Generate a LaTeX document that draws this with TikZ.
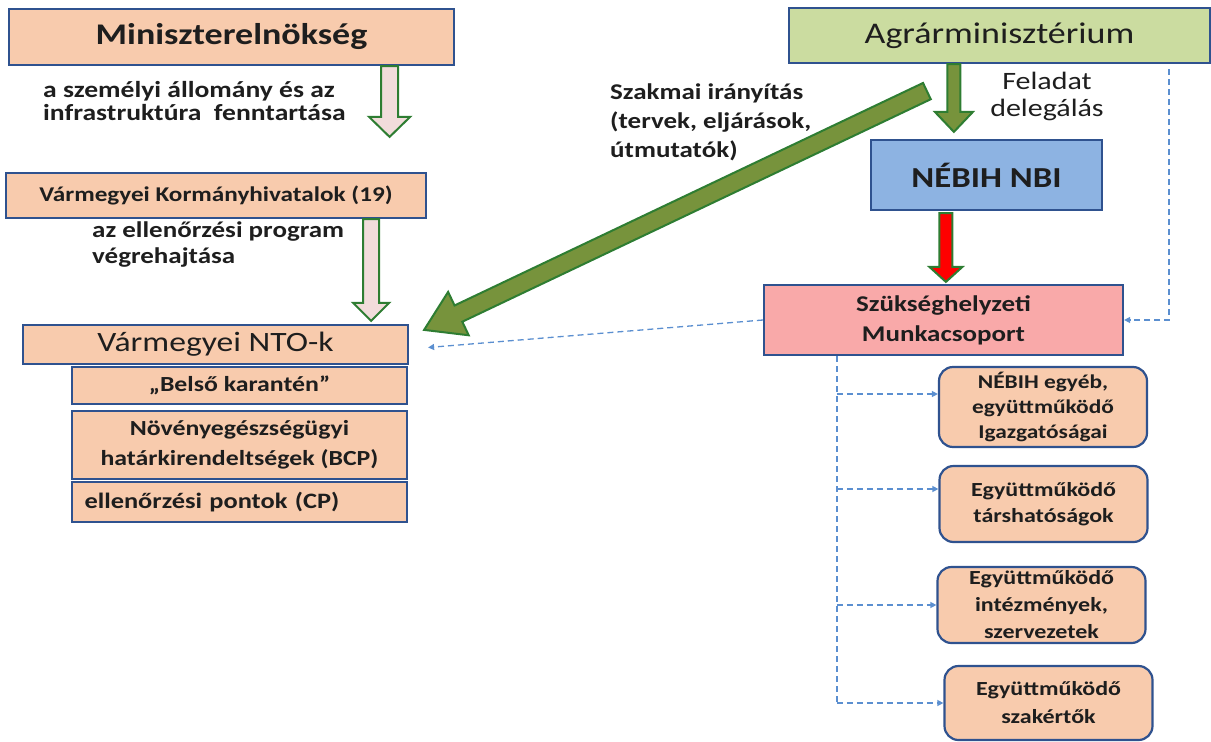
\documentclass[tikz,border=0pt]{standalone}
\usepackage{fontspec}
\setmainfont{Carlito}[FakeStretch=1.2]
\usetikzlibrary{calc,arrows.meta}

\definecolor{peach}{HTML}{F8CBAD}
\definecolor{boxline}{HTML}{2F528F}
\definecolor{agrargreen}{HTML}{CBDCA0}
\definecolor{nebihblue}{HTML}{8DB3E2}
\definecolor{alarmpink}{HTML}{F9A9A9}
\definecolor{arrowolive}{HTML}{77933C}
\definecolor{arrowline}{HTML}{2E7D32}
\definecolor{hollowfill}{HTML}{F2DCDB}
\definecolor{dashblue}{HTML}{5B8FD0}
\definecolor{textdark}{HTML}{1E1E1E}

% block arrow: style, tail, tip, shaft half width, head half width, head length
\newcommand{\fatarrow}[6]{%
  \coordinate (fahead) at ($(#3)!#6!(#2)$);
  \draw[#1] ($(#2)!#4!90:(#3)$) -- ($(fahead)!#4!-90:(#2)$) -- ($(fahead)!#5!-90:(#2)$) -- (#3)
    -- ($(fahead)!#5!90:(#2)$) -- ($(fahead)!#4!90:(#2)$) -- ($(#2)!#4!-90:(#3)$) -- cycle;}

\begin{document}
\begin{tikzpicture}[x=1pt,y=-1pt]
\tikzstyle{every node}+=[inner sep=0pt]
\tikzstyle{orgbox}=[draw=boxline, line width=2.2pt, fill=peach, text=textdark]
\tikzstyle{roundbox}=[orgbox, rounded corners=14pt, minimum width=208, align=center, font=\bfseries\fontsize{20}{26}\selectfont]
\tikzstyle{note}=[text=textdark, align=left, font=\bfseries\fontsize{23}{23}\selectfont]
\tikzstyle{hollowarrow}=[draw=arrowline, line width=2pt, fill=hollowfill]
\tikzstyle{solidarrow}=[draw=arrowline, line width=2pt, fill=arrowolive]
\tikzstyle{redarrow}=[solidarrow, fill=red]
\tikzstyle{dashline}=[draw=dashblue, line width=1.3pt, dash pattern=on 6pt off 4pt]
\tikzstyle{dashlink}=[dashline, -{Triangle[length=6pt,width=6pt]}]
\useasboundingbox (0,0) rectangle (1211,742);
% left column
\node[orgbox, minimum width=445, minimum height=56, font=\bfseries\fontsize{30}{36}\selectfont] (minisz) at (231.5,37) {Miniszterelnökség};
\node[orgbox, minimum width=420, minimum height=45, font=\bfseries\fontsize{21}{26}\selectfont] (megyekh) at (216,195.5) {Vármegyei Kormányhivatalok (19)};
\node[orgbox, minimum width=385, minimum height=39, font=\fontsize{28}{32}\selectfont] (nto) at (215.5,344.5) {Vármegyei NTO-k};
\node[orgbox, minimum width=335, minimum height=37, font=\bfseries\fontsize{21.5}{23}\selectfont] (belso) at (239.5,385.5) {„Belső karantén”};
\node[orgbox, minimum width=335, minimum height=68, align=center, font=\bfseries\fontsize{21.5}{30}\selectfont] (bcp) at (239.5,445) {Növényegészségügyi\\határkirendeltségek (BCP)};
\node[orgbox, minimum width=335, minimum height=40, text width=310, align=left, font=\bfseries\fontsize{22}{24}\selectfont] (cp) at (239.5,502) {ellenőrzési pontok (CP)};
\node[note, anchor=west] (tszemely) at (43,101) {a személyi állomány és az\\infrastruktúra\ \ fenntartása};
\node[note, anchor=west, font=\bfseries\fontsize{22.5}{26}\selectfont] (tellen) at (92,245) {az ellenőrzési program\\végrehajtása};
% right column
\node[orgbox, fill=agrargreen, minimum width=421, minimum height=55, font=\fontsize{30}{34}\selectfont] (agrar) at (999.5,35.5) {Agrárminisztérium};
\node[orgbox, fill=nebihblue, minimum width=231, minimum height=70, font=\bfseries\fontsize{29}{32}\selectfont] (nebih) at (986.5,175) {NÉBIH NBI};
\node[orgbox, fill=alarmpink, minimum width=359, minimum height=70, align=center, font=\bfseries\fontsize{22.5}{30}\selectfont] (munkacs) at (943.5,320) {Szükséghelyzeti\\Munkacsoport};
\node[roundbox, minimum height=80, font=\bfseries\fontsize{19.5}{25}\selectfont] (egyeb) at (1043,407) {NÉBIH egyéb,\\együttműködő\\Igazgatóságai};
\node[roundbox, minimum height=76] (tars) at (1043.5,504) {Együttműködő\\társhatóságok};
\node[roundbox, minimum height=76, font=\bfseries\fontsize{20}{27}\selectfont] (intez) at (1041.5,605) {Együttműködő\\intézmények,\\szervezetek};
\node[roundbox, minimum height=74, font=\bfseries\fontsize{20}{28}\selectfont] (szak) at (1048.5,703) {Együttműködő\\szakértők};
\node[note, anchor=west, font=\bfseries\fontsize{22.5}{29}\selectfont] (tszakmai) at (610,122) {Szakmai irányítás\\(tervek, eljárások,\\útmutatók)};
\node[note, align=center, font=\fontsize{25}{27}\selectfont] (tfeladat) at (1047,96) {Feladat\\delegálás};
% block arrows
\coordinate (h1a) at ($(minisz.south east)+(-65.5,0)$);
\coordinate (h1b) at ($(megyekh.north east)+(-37.5,-35)$);
\fatarrow{hollowarrow}{h1a}{h1b}{8.5pt}{20.5pt}{20pt}
\coordinate (h2a) at ($(megyekh.south east)+(-56,0)$);
\coordinate (h2b) at ($(nto.north east)+(-38,-3)$);
\fatarrow{hollowarrow}{h2a}{h2b}{8pt}{18pt}{18pt}
\coordinate (g1a) at ($(agrar.south west)+(166,0)$);
\coordinate (g1b) at ($(nebih.north west)+(84,-7)$);
\fatarrow{solidarrow}{g1a}{g1b}{6.5pt}{19pt}{20pt}
\coordinate (r1a) at ($(nebih.south west)+(76,2)$);
\coordinate (r1b) at ($(munkacs.north west)+(183,-2)$);
\fatarrow{redarrow}{r1a}{r1b}{6.5pt}{16.5pt}{15pt}
\coordinate (g2a) at ($(agrar.south west)+(139,27)$);
\coordinate (g2b) at ($(nto.north east)+(15,6)$);
\fatarrow{solidarrow}{g2a}{g2b}{9pt}{24pt}{38pt}
% dashed links
\draw[dashlink] (munkacs.west) -- ($(nto.east)+(19,3)$);
\draw[dashlink] ($(agrar.south east)+(-42,5)$) |- (munkacs.east);
\coordinate (vtop) at ($(munkacs.south west)+(74,0)$);
\coordinate (vbot) at (vtop |- szak.west);
\draw[dashline] (vtop) -- (vbot);
\foreach \b/\dy in {egyeb/-13, tars/-15, intez/0, szak/0}{
  \coordinate (bend) at ($(\b.west)+(0,\dy)$);
  \draw[dashlink] (vtop |- bend) -- (bend);
}
\end{tikzpicture}
\end{document}
